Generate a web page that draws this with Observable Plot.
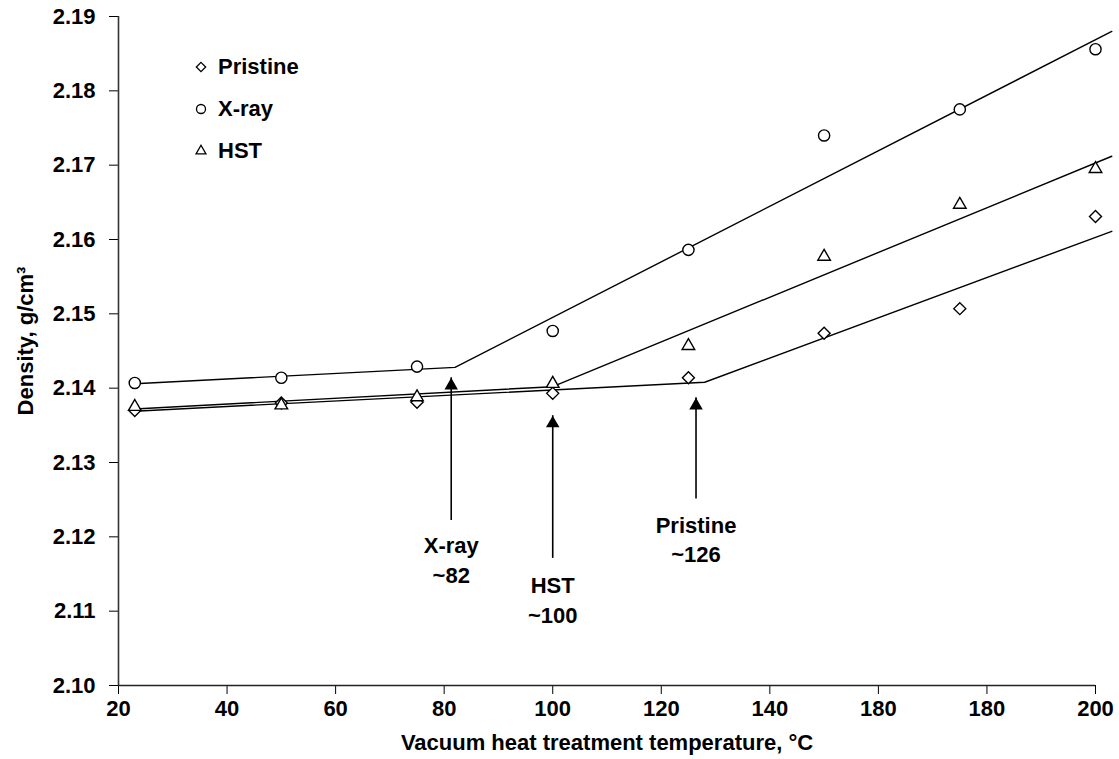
<!DOCTYPE html>
<html><head><meta charset="utf-8">
<script src="https://cdn.jsdelivr.net/npm/d3@7"></script>
<script src="https://cdn.jsdelivr.net/npm/@observablehq/plot@0.6"></script>
<style>
body{margin:0;background:#fff;}
#wrap{position:relative;width:1119px;height:759px;font-family:"Liberation Sans",Arial,sans-serif;color:#000;}
#legend{position:absolute;left:190px;top:46px;font-size:22px;font-weight:bold;line-height:1;}
.row{display:flex;align-items:center;height:42px;}
.row svg{width:22px;height:22px;margin-right:6px;overflow:visible;}
</style></head><body><div id="wrap"></div>
<script>
// ---- data ----
const temps = [23, 50, 75, 100, 125, 150, 175, 200];
const pristine = [2.1370, 2.1380, 2.1381, 2.1393, 2.1414, 2.1474, 2.1507, 2.1631];
const xray     = [2.1407, 2.1414, 2.1429, 2.1477, 2.1586, 2.1740, 2.1775, 2.1856];
const hst      = [2.1375, 2.1377, 2.1388, 2.1406, 2.1457, 2.1577, 2.1647, 2.1695];

// bilinear fit lines [temperature, density]
const fitPristine = [[23, 2.1369], [128, 2.1408], [203, 2.1611]];
const fitXray     = [[23, 2.1406], [82, 2.1428], [203, 2.1880]];
const fitHst      = [[23, 2.1372], [100, 2.1402], [203, 2.1712]];

// transition annotations
const annNames  = ["X-ray", "HST", "Pristine"];
const annText   = ["~82", "~100", "~126"];
const annX      = [81.3, 100, 126.4];
const annTip    = [2.1414, 2.1363, 2.1387];
const annTail   = [2.1222, 2.1171, 2.1251];
const annLabelY = [2.1206, 2.1153, 2.1234];

const xTicks = [20, 40, 60, 80, 100, 120, 140, 160, 180, 200];
const xTickLabels = ["20", "40", "60", "80", "100", "120", "140", "180", "180", "200"];
const yTicks = [2.10, 2.11, 2.12, 2.13, 2.14, 2.15, 2.16, 2.17, 2.18, 2.19];

const seriesNames = ["Pristine", "X-ray", "HST"];
const xTitle = "Vacuum heat treatment temperature, °C";
const yTitle = "Density, g/cm³";

// ---- build tables ----
const toPts = (vals) => temps.map((t, i) => ({x: t, y: vals[i]}));
const toFit = (arr) => arr.map(([x, y]) => ({x, y}));
const ann = annNames.map((n, i) => ({
  x: annX[i], tip: annTip[i], tail: annTail[i], ly: annLabelY[i], label: n + "\n" + annText[i]
}));

const font = '"Liberation Sans", Arial, sans-serif';
const lineStyle = {x: "x", y: "y", stroke: "#000", strokeWidth: 1.4};
const dotStyle = {x: "x", y: "y", stroke: "#000", fill: "#fff", strokeWidth: 1.4};

const plot = Plot.plot({
  width: 1119, height: 759,
  marginLeft: 118, marginRight: 24, marginTop: 16, marginBottom: 74,
  style: {fontSize: "22px", fontWeight: "bold", fontFamily: font, color: "#000", background: "#fff", overflow: "visible"},
  x: {domain: [20, 200], ticks: xTicks, tickFormat: d => xTickLabels[xTicks.indexOf(d)], tickSize: 9, tickPadding: 6, label: null},
  y: {domain: [2.10, 2.19], ticks: yTicks, tickFormat: d => d.toFixed(2), tickSize: 9, tickPadding: 14, label: null},
  marks: [
    Plot.ruleX([20], {stroke: "#333", strokeWidth: 1.6}),
    Plot.ruleY([2.10], {stroke: "#222", strokeWidth: 1.4}),
    Plot.line(toFit(fitPristine), lineStyle),
    Plot.line(toFit(fitXray), lineStyle),
    Plot.line(toFit(fitHst), lineStyle),
    Plot.dot(toPts(pristine), {...dotStyle, symbol: "diamond2", r: 5.4}),
    Plot.dot(toPts(hst), {...dotStyle, symbol: "triangle2", r: 6}),
    Plot.dot(toPts(xray), {...dotStyle, symbol: "circle", r: 5.6}),
    Plot.ruleX(ann, {x: "x", y1: "tail", y2: "tip", stroke: "#000", strokeWidth: 1.6}),
    Plot.dot(ann, {x: "x", y: "tip", symbol: "triangle", r: 5, fill: "#000", stroke: "none", dy: 7.8}),
    Plot.text(ann, {x: "x", y: "ly", text: "label", lineAnchor: "top", lineHeight: 1.35, textAnchor: "middle", fill: "#000"}),
    Plot.text([xTitle], {text: d => d, frameAnchor: "bottom", dy: 57, textAnchor: "middle", lineAnchor: "middle", fill: "#000"}),
    Plot.text([yTitle], {text: d => d, frameAnchor: "left", rotate: -90, dx: -92.4, dy: -10, textAnchor: "middle", lineAnchor: "middle", fill: "#000"})
  ]
});

const wrap = document.getElementById("wrap");
wrap.appendChild(plot);

// legend overlay
const legend = document.createElement("div");
legend.id = "legend";
const syms = [[d3.symbolDiamond2, 55], [d3.symbolCircle, 64], [d3.symbolTriangle2, 70]];
seriesNames.forEach((name, i) => {
  const row = document.createElement("div");
  row.className = "row";
  const path = d3.symbol(syms[i][0], syms[i][1])();
  row.innerHTML = `<svg viewBox="-11 -11 22 22"><path d="${path}" fill="#fff" stroke="#000" stroke-width="1.3"/></svg><span>${name}</span>`;
  legend.appendChild(row);
});
wrap.appendChild(legend);
</script></body></html>
